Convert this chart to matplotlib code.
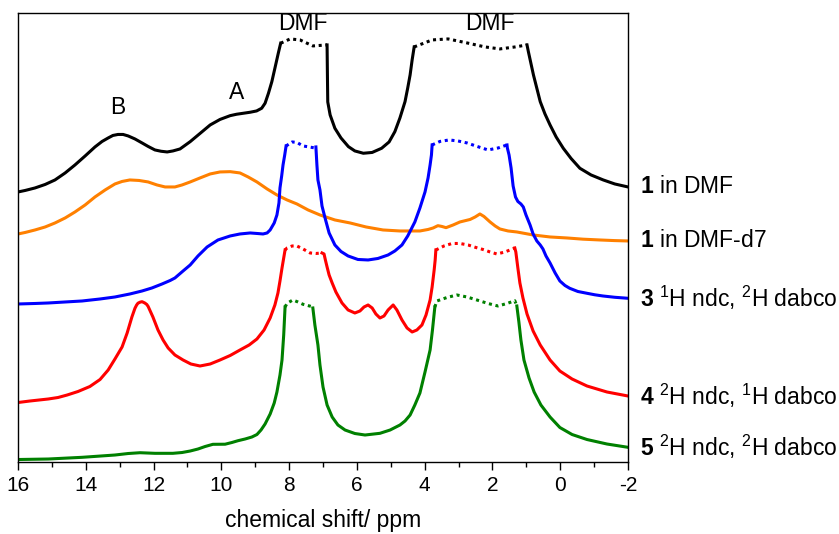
import numpy as np
import matplotlib
matplotlib.use('Agg')
import matplotlib.pyplot as plt
from matplotlib.ticker import MultipleLocator

plt.rcParams['font.family'] = ['Liberation Sans', 'DejaVu Sans']
plt.rcParams['mathtext.fontset'] = 'custom'
plt.rcParams['mathtext.rm'] = 'Liberation Sans'
plt.rcParams['mathtext.bf'] = 'Liberation Sans:bold'
plt.rcParams['axes.unicode_minus'] = False

# 1 in DMF
ppm_1 = [16.00, 15.79, 15.50, 15.20, 14.91, 14.61, 14.32, 14.02, 13.73, 13.52, 13.34, 13.20,
         13.05, 12.90, 12.75, 12.55, 12.34, 12.16, 11.96, 11.78, 11.60, 11.43, 11.22, 10.92,
         10.63, 10.33, 10.04, 9.74, 9.55, 9.35, 9.15, 8.96, 8.81, 8.71, 8.61, 8.51, 8.42,
         8.32, 8.25, 7.97, 7.68, 7.30, 6.88, 6.87, 6.86, 6.79, 6.65, 6.47, 6.25, 6.06, 5.81,
         5.55, 5.27, 5.05, 4.88, 4.73, 4.58, 4.50, 4.43, 4.37, 4.31, 3.78, 3.31, 2.75, 2.22,
         1.78, 1.33, 0.98, 0.94, 0.79, 0.59, 0.45, 0.30, 0.12, -0.09, -0.32, -0.58, -0.91,
         -1.27, -1.61, -2.00]
int_1 = [270, 271.5, 274, 277.5, 282, 289, 297, 306, 315, 320.5, 324, 326.5,
         327.5, 327.5, 326, 323, 319, 315.5, 312, 310.7, 310, 311, 313, 320.3,
         328.5, 337, 342.5, 346.3, 347.7, 348.7, 349.7, 351, 353.7, 358.7, 368.7, 380.3, 393.7,
         408.7, 418.7, 423, 422, 416, 417, 387, 360, 347, 333.7, 324, 315.3, 311, 308.7,
         309.5, 313.7, 320, 330.3, 344, 360.3, 374, 387, 402, 415, 422, 423, 419, 415,
         413, 415, 417, 410.3, 387, 360.3, 348, 337, 325, 313.7, 303.5, 293.7, 287,
         282, 278, 275]
clip_1 = [(8.25, 6.88), (4.31, 0.98)]

# 1 in DMF-d7
ppm_1d = [16.00, 15.79, 15.50, 15.20, 14.91, 14.61, 14.32, 14.02, 13.73, 13.43, 13.14, 12.93,
          12.70, 12.43, 12.16, 11.90, 11.66, 11.37, 11.16, 10.92, 10.63, 10.33, 10.04, 9.74,
          9.45, 9.21, 8.95, 8.65, 8.36, 8.06, 7.77, 7.44, 7.09, 6.65, 6.20, 5.73, 5.23, 4.73,
          4.14, 3.90, 3.75, 3.61, 3.49, 3.37, 3.16, 2.96, 2.66, 2.51, 2.37, 2.25, 2.07, 1.92,
          1.78, 1.54, 1.28, 0.80, 0.30, -0.20, -0.67, -1.17, -1.59, -2.00]
int_1d = [228, 229.5, 232, 235, 239, 244, 250, 257, 265, 272, 278, 280.5,
          282, 281.5, 280, 277, 275, 275, 277, 280, 284, 288, 290, 290.3,
          289, 285, 280, 273, 267, 262, 258, 252, 247, 242, 239, 235, 232, 231,
          231, 232.5, 234, 236.3, 235.5, 234.3, 237, 240, 242.5, 245, 248, 245.5, 240, 236,
          233, 231, 230, 227, 225, 224, 222.8, 222, 221.4, 221]

# 3: 1H ndc, 2H dabco
ppm_3 = [16.00, 15.50, 15.11, 14.61, 14.11, 13.58, 13.14, 12.70, 12.34, 12.05, 11.75, 11.51,
         11.37, 11.13, 10.92, 10.69, 10.42, 10.10, 9.74, 9.45, 9.15, 8.95, 8.77, 8.65, 8.56,
         8.44, 8.36, 8.30, 8.27, 8.22, 8.18, 8.13, 8.09, 7.91, 7.77, 7.59, 7.41, 7.24, 7.21,
         7.18, 7.15, 7.09, 7.03, 6.94, 6.82, 6.65, 6.47, 6.26, 5.97, 5.67, 5.38, 5.08, 4.88,
         4.67, 4.50, 4.29, 4.14, 3.99, 3.90, 3.84, 3.80, 3.78, 3.55, 3.28, 3.02, 2.75, 2.45,
         2.13, 1.83, 1.57, 1.56, 1.51, 1.45, 1.39, 1.32, 1.25, 1.16, 1.09, 1.01, 0.89, 0.80,
         0.69, 0.59, 0.51, 0.42, 0.30, 0.15, 0.01, -0.14, -0.28, -0.52, -0.79, -1.02, -1.26,
         -1.61, -2.00]
int_3 = [158, 158.5, 159, 160, 161, 163, 165, 168, 171, 174, 178, 181.5,
         184, 191, 197, 206, 215, 222, 226, 228, 229, 228.5, 228, 229, 232,
         239, 247, 259, 274, 286, 297, 307, 316, 320, 319.5, 316, 315, 314, 315,
         297, 282, 272, 256, 244, 229, 217, 210.5, 206, 202.5, 202, 203.5, 207, 211,
         217, 226, 240, 254, 270, 284, 297, 307, 317, 320.5, 322, 321, 319, 315.5,
         312, 314, 317, 314, 307, 294, 276, 265, 260.5, 258, 255, 247, 237, 228,
         221, 217, 213, 206, 199, 189, 181, 176.5, 173.7, 170.5, 168.7, 167.2, 166,
         164.7, 163.7]
clip_3 = [(8.09, 7.21), (3.78, 1.57)]

# 4: 2H ndc, 1H dabco
ppm_4 = [16.00, 15.65, 15.11, 14.82, 14.55, 14.23, 13.88, 13.58, 13.34, 13.14, 12.93, 12.78,
         12.64, 12.55, 12.50, 12.46, 12.40, 12.34, 12.26, 12.20, 12.16, 12.02, 11.87, 11.72,
         11.57, 11.37, 11.13, 10.90, 10.63, 10.33, 10.04, 9.74, 9.45, 9.18, 8.95, 8.74, 8.56,
         8.42, 8.33, 8.27, 8.21, 8.16, 8.12, 8.06, 7.91, 7.77, 7.59, 7.38, 7.21, 7.03, 6.97,
         6.93, 6.88, 6.82, 6.73, 6.62, 6.44, 6.26, 6.06, 5.91, 5.79, 5.67, 5.55, 5.44, 5.32,
         5.20, 5.08, 4.93, 4.82, 4.67, 4.52, 4.37, 4.23, 4.08, 3.96, 3.84, 3.78, 3.72, 3.69,
         3.67, 3.43, 3.19, 2.96, 2.72, 2.49, 2.28, 2.07, 1.87, 1.63, 1.34, 1.31, 1.25, 1.19,
         1.10, 0.98, 0.80, 0.59, 0.30, 0.01, -0.35, -0.79, -1.38, -2.00]
int_4 = [59.5, 61, 63, 64.5, 67, 70.5, 75.5, 82.5, 92, 103, 115, 129,
         145, 153.7, 157, 158.8, 159.8, 160.3, 159, 157.5, 155.5, 145, 132, 122,
         114, 107, 102, 98, 96, 98, 102, 106.5, 112, 117, 123, 132, 144,
         157, 169, 181, 194, 204, 212, 214, 216, 216, 213, 209, 208.5, 209, 208,
         202, 195, 187, 179, 170, 159, 152, 149, 151, 155, 157, 154, 148, 144,
         146, 152, 157, 152, 142, 134, 130, 132, 137, 147, 162, 175, 192, 202,
         212, 216, 218.5, 218.5, 217, 214.5, 212.5, 210, 208, 210, 214, 210, 194, 179,
         164, 148, 131, 117, 102, 91, 83, 76, 70, 66]
clip_4 = [(8.12, 7.03), (3.67, 1.34)]

# 5: 2H ndc, 2H dabco
ppm_5 = [16.00, 15.11, 14.11, 13.14, 12.75, 12.40, 11.96, 11.43, 11.16, 10.92, 10.69, 10.48,
         10.25, 9.89, 9.69, 9.51, 9.30, 9.10, 8.95, 8.83, 8.71, 8.56, 8.44, 8.36, 8.27, 8.21,
         8.16, 8.12, 8.06, 7.89, 7.74, 7.59, 7.32, 7.30, 7.24, 7.15, 7.09, 7.00, 6.88, 6.73,
         6.56, 6.35, 6.06, 5.76, 5.32, 5.02, 4.73, 4.58, 4.43, 4.29, 4.14, 3.99, 3.84, 3.77,
         3.70, 3.64, 3.34, 3.05, 2.75, 2.46, 2.13, 1.84, 1.57, 1.34, 1.28, 1.22, 1.16, 1.07,
         0.92, 0.77, 0.57, 0.30, 0.01, -0.35, -0.79, -1.38, -2.00]
int_5 = [2.5, 3, 4.7, 7, 8.5, 9.3, 8.7, 8.7, 9.5, 11, 13, 15.5,
         17.7, 17.8, 19.5, 21.3, 23, 25, 27.5, 32, 38, 48, 59, 70, 87, 102,
         127, 155, 158.7, 162, 160, 157.7, 155.3, 154, 137, 117, 97, 75, 57, 45,
         37, 32, 28.5, 27, 28.7, 32, 37, 41, 47, 57, 69, 90, 112, 132,
         155, 161, 164.5, 167, 165, 162, 158.5, 156, 158.5, 161.3, 156, 140, 122, 102,
         84, 70, 57, 45, 34.5, 27.5, 22.5, 18, 14.7]
clip_5 = [(8.12, 7.30), (3.70, 1.28)]

labels = [r'$\mathbf{1}$ in DMF',
          r'$\mathbf{1}$ in DMF-d7',
          r'$\mathbf{3}$ $^{1}$H ndc, $^{2}$H dabco',
          r'$\mathbf{4}$ $^{2}$H ndc, $^{1}$H dabco',
          r'$\mathbf{5}$ $^{2}$H ndc, $^{2}$H dabco']

FS = 16.5


def draw_spectrum(ax, ppm, inten, clipped, color, label):
    ppm = np.asarray(ppm)
    inten = np.asarray(inten, dtype=float)
    inside = np.zeros(len(ppm), dtype=bool)
    # clipped solvent peaks are drawn dotted across their flat top
    for hi, lo in clipped:
        inside |= (ppm < hi) & (ppm > lo)
        top = (ppm <= hi) & (ppm >= lo)
        ax.plot(ppm[top], inten[top], color=color, lw=2.2, ls=(0, (1, 1.2)))
    ax.plot(ppm, np.where(inside, np.nan, inten), color=color, lw=2.2)
    ax.annotate(label, xy=(1.02, inten[-1]), xycoords=('axes fraction', 'data'),
                va='center', ha='left', fontsize=FS, annotation_clip=False)


fig = plt.figure(figsize=(8.39, 5.34), dpi=100)
ax = fig.add_axes([0.0215, 0.1348, 0.727, 0.841])

draw_spectrum(ax, ppm_1, int_1, clip_1, 'black', labels[0])
draw_spectrum(ax, ppm_1d, int_1d, [], '#ff8000', labels[1])
draw_spectrum(ax, ppm_3, int_3, clip_3, '#0000ff', labels[2])
draw_spectrum(ax, ppm_4, int_4, clip_4, '#ff0000', labels[3])
draw_spectrum(ax, ppm_5, int_5, clip_5, '#008000', labels[4])

ax.text(13.05, 354, 'B', fontsize=FS, ha='center', va='center')
ax.text(9.54, 369, 'A', fontsize=FS, ha='center', va='center')
ax.text(7.59, 438, 'DMF', fontsize=FS, ha='center', va='center')
ax.text(2.07, 438, 'DMF', fontsize=FS, ha='center', va='center')

ax.set_xlim(16, -2)
ax.set_ylim(0, 449)
ax.xaxis.set_major_locator(MultipleLocator(2))
ax.xaxis.set_minor_locator(MultipleLocator(1))
ax.tick_params(axis='x', which='major', direction='out', length=6, width=1,
               labelsize=15, pad=4)
ax.tick_params(axis='x', which='minor', direction='out', length=3.5, width=1)
ax.set_yticks([])
for s in ax.spines.values():
    s.set_linewidth(1.0)
ax.set_xlabel('chemical shift/ ppm', fontsize=FS, labelpad=10)

fig.savefig('out.png', dpi=100)
